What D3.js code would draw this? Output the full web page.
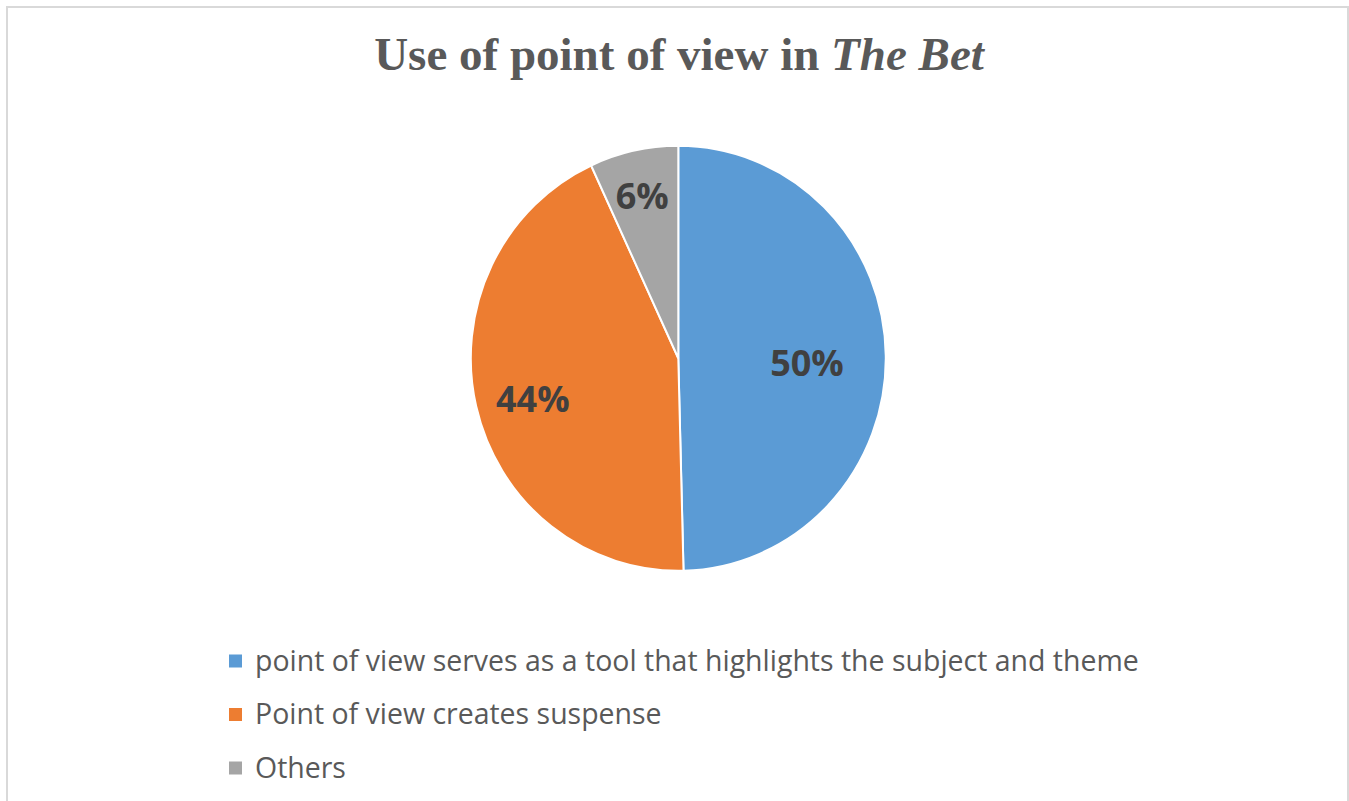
<!DOCTYPE html>
<html>
<head>
<meta charset="utf-8">
<script src="https://cdn.jsdelivr.net/npm/d3@7"></script>
<style>
  body { margin: 0; background: #fff; }
  svg { display: block; }
</style>
</head>
<body>
<svg></svg>
<script>
const svgWidth = 1349
const svgHeight = 801

// data
const categories = [
  "point of view serves as a tool that highlights the subject and theme",
  "Point of view creates suspense",
  "Others"
]
const shares = [49.6, 43.5, 6.9]
const pctLabels = ["50%", "44%", "6%"]
const sliceColors = ["#5B9BD5", "#ED7D31", "#A5A5A5"]

const svg = d3.select("svg")
  .attr("width", svgWidth)
  .attr("height", svgHeight)

// chart frame
svg.append("rect")
  .attr("x", 7).attr("y", 7)
  .attr("width", 1341).attr("height", 900)
  .attr("fill", "#fff")
  .attr("stroke", "#d9d9d9")
  .attr("stroke-width", 2)

// title
const title = svg.append("text")
  .attr("x", 679).attr("y", 70)
  .attr("text-anchor", "middle")
  .attr("font-family", "'Liberation Serif', 'Times New Roman', serif")
  .attr("font-weight", "bold")
  .attr("font-size", 47)
  .attr("fill", "#595959")
title.append("tspan").text("Use of point of view in ")
title.append("tspan").attr("font-style", "italic").text("The Bet")

// pie
const cx = 678.3, cy = 358.3
const rx = 207.5, ry = 212.5
const yStretch = ry / rx

const data = categories.map((c, i) => ({key: c, value: shares[i], label: pctLabels[i]}))

const pie = d3.pie().sort(null).value(d => d.value)
const arcs = pie(data)
const arc = d3.arc().innerRadius(0).outerRadius(rx)

const color = d3.scaleOrdinal().domain(categories).range(sliceColors)

const pieG = svg.append("g")
  .attr("transform", `translate(${cx},${cy}) scale(1,${yStretch})`)

pieG.selectAll("path")
  .data(arcs)
  .enter()
  .append("path")
  .attr("d", arc)
  .attr("fill", d => color(d.data.key))
  .attr("stroke", "#fff")
  .attr("stroke-width", 2)

// data labels, best-fit style: bigger slices get their label nearer the middle
const labelPos = (d) => {
  const span = d.endAngle - d.startAngle
  const f = span > 3 ? 0.62 : span > 1 ? 0.72 : 0.81
  const c = d3.arc().innerRadius(rx * f).outerRadius(rx * f).centroid(d)
  return [cx + c[0], cy + c[1] * yStretch + 19]
}

svg.selectAll("text.pct")
  .data(arcs)
  .enter()
  .append("text")
  .attr("class", "pct")
  .attr("x", d => labelPos(d)[0])
  .attr("y", d => labelPos(d)[1])
  .attr("text-anchor", "middle")
  .attr("font-family", "'Open Sans', sans-serif")
  .attr("font-weight", "bold")
  .attr("font-size", 36)
  .attr("fill", "#404040")
  .text(d => d.data.label)

// legend
const legendY = d3.scalePoint().domain(categories).range([670.5, 777.5])

const legend = svg.selectAll("g.legend")
  .data(data)
  .enter()
  .append("g")
  .attr("class", "legend")
  .attr("transform", d => `translate(229,${legendY(d.key)})`)

legend.append("rect")
  .attr("x", 0).attr("y", -16)
  .attr("width", 13).attr("height", 13)
  .attr("fill", d => color(d.key))

const legendText = legend.append("text")
  .attr("x", 26).attr("y", 0)
  .attr("font-family", "'Open Sans', sans-serif")
  .attr("font-size", 25)
  .attr("fill", "#595959")
  .text(d => d.key)

// fit the longest legend entry to the width seen in the reference
const firstLen = legendText.node().getComputedTextLength()
const fs = 25 * 884 / firstLen
legendText.attr("font-size", fs)
</script>
</body>
</html>
